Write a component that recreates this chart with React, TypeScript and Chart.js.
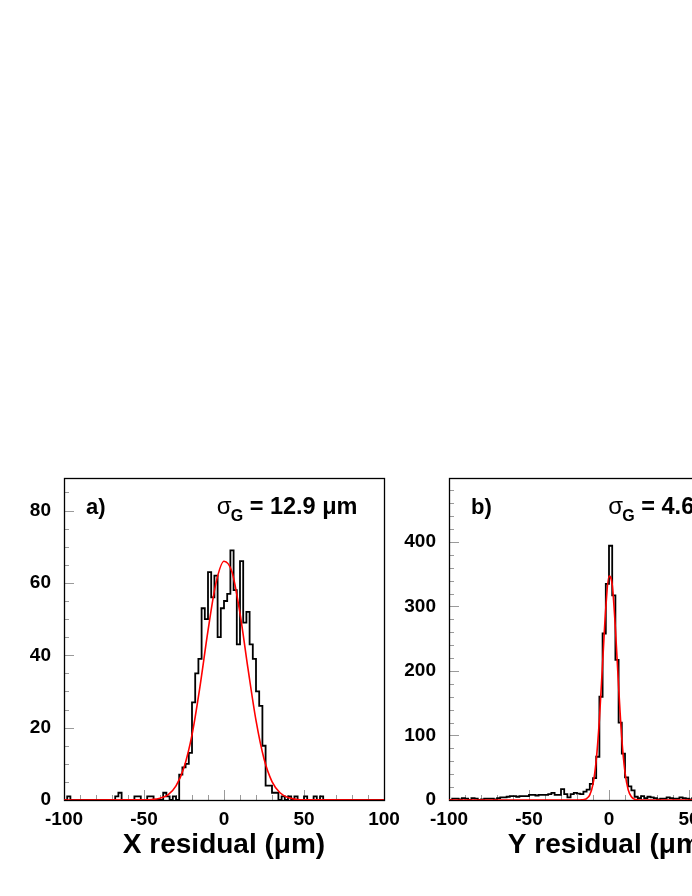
import React, { useEffect, useRef } from 'react';
import { Chart, registerables } from 'chart.js';

Chart.register(...registerables);

const FF = '"Liberation Sans", Arial, Helvetica, sans-serif';

// Histogram bin low edges (µm), width 2
const binLowEdges = [
  -100, -98, -96, -94, -92, -90, -88, -86, -84, -82,
  -80, -78, -76, -74, -72, -70, -68, -66, -64, -62,
  -60, -58, -56, -54, -52, -50, -48, -46, -44, -42,
  -40, -38, -36, -34, -32, -30, -28, -26, -24, -22,
  -20, -18, -16, -14, -12, -10, -8, -6, -4, -2,
  0, 2, 4, 6, 8, 10, 12, 14, 16, 18,
  20, 22, 24, 26, 28, 30, 32, 34, 36, 38,
  40, 42, 44, 46, 48, 50, 52, 54, 56, 58,
  60, 62, 64, 66, 68, 70, 72, 74, 76, 78,
  80, 82, 84, 86, 88, 90, 92, 94, 96, 98,
];
const binUpperEnd = 100;

// a) X residual counts
const countsX = [
  0, 1, 0, 0, 0, 0, 0, 0, 0, 0,
  0, 0, 0, 0, 0, 0, 1, 2, 0, 0,
  0, 0, 1, 1, 0, 0, 1, 1, 0, 0,
  0, 2, 1, 0, 1, 0, 7, 9, 10, 13,
  27, 35, 39, 53, 50, 63, 56, 62, 45, 53,
  55, 57, 69, 58, 43, 66, 49, 52, 43, 39,
  30, 26, 15, 4, 4, 2, 2, 0, 1, 0,
  1, 0, 1, 0, 0, 1, 0, 0, 1, 0,
  1, 0, 0, 0, 0, 0, 0, 0, 0, 0,
  0, 0, 0, 0, 0, 0, 0, 0, 0, 0,
];

// b) Y residual counts
const countsY = [
  0, 2, 2, 1, 3, 2, 0, 3, 2, 0,
  1, 2, 2, 2, 1, 3, 4, 4, 5, 6,
  6, 5, 6, 6, 6, 8, 8, 7, 8, 8,
  8, 9, 11, 8, 8, 17, 9, 4, 9, 11,
  10, 9, 13, 16, 25, 34, 67, 160, 258, 335,
  394, 317, 217, 120, 72, 35, 21, 15, 5, 3,
  6, 3, 5, 4, 3, 1, 2, 2, 4, 3,
  2, 2, 4, 3, 2, 1, 3, 2, 1, 2,
  1, 2, 1, 0, 1, 1, 0, 1, 1, 0,
  1, 0, 1, 0, 0, 1, 0, 0, 1, 0,
];

// Fitted curves (red)
const fitPosA = [-100, -50, -45, -40, -35, -30, -25, -20, -15, -10, -5, 0, 5, 10, 15, 20, 25, 30, 35, 40, 45, 50, 100];
const fitValA = [0, 0.05, 0.15, 0.5, 1.4, 3.9, 9, 18, 31.4, 46.8, 60, 66, 63, 51.6, 36.3, 22, 11.4, 5.1, 2, 0.66, 0.2, 0.05, 0];
const fitPosB = [-100, -20, -18, -16, -14, -12, -10, -8, -6, -4, -2, 0, 2, 4, 6, 8, 10, 12, 14, 16, 18, 20, 100];
const fitValB = [0, 0, 0.1, 0.5, 2.3, 8, 24.5, 61, 125, 212, 298, 347, 334, 266, 176, 95, 43, 16, 5, 1.3, 0.3, 0, 0];

const xTicks = [-100, -50, 0, 50, 100];
const yTicksA = [0, 20, 40, 60, 80];
const yTicksB = [0, 100, 200, 300, 400];

type PanelCfg = {
  counts: number[];
  fitPos: number[];
  fitVal: number[];
  yMax: number;
  yTicks: number[];
  yMinorStep: number;
  label: string;
  sigma: string;
  sigmaDx: number;
  xTitle: string;
};

function histPoints(counts: number[]) {
  const pts = binLowEdges.map((x, i) => ({ x, y: counts[i] }));
  pts.push({ x: binUpperEnd, y: counts[counts.length - 1] });
  return pts;
}

function makeDecor(cfg: PanelCfg) {
  return {
    id: 'decor',
    beforeDatasetsDraw(chart: any) {
      const { ctx, chartArea: ca, scales } = chart;
      const xs = scales.x;
      const ys = scales.y;
      ctx.save();
      ctx.strokeStyle = '#9a9a9a';
      ctx.lineWidth = 1;
      ctx.beginPath();
      for (let v = -100; v <= 100; v += 10) {
        const px = Math.round(xs.getPixelForValue(v)) + 0.5;
        const len = v % 50 === 0 ? 10 : 5;
        ctx.moveTo(px, ca.bottom);
        ctx.lineTo(px, ca.bottom - len);
      }
      const major = cfg.yTicks[1] - cfg.yTicks[0];
      for (let v = 0; v <= cfg.yMax; v += cfg.yMinorStep) {
        const py = Math.round(ys.getPixelForValue(v)) + 0.5;
        const len = v % major === 0 ? 10 : 5;
        ctx.moveTo(ca.left, py);
        ctx.lineTo(ca.left + len, py);
      }
      ctx.stroke();
      ctx.strokeStyle = '#000';
      ctx.lineWidth = 1.3;
      ctx.strokeRect(ca.left + 0.5, ca.top + 0.5, ca.right - ca.left, ca.bottom - ca.top);
      ctx.restore();
    },
    afterDatasetsDraw(chart: any) {
      const { ctx, chartArea: ca } = chart;
      ctx.save();
      ctx.fillStyle = '#000';
      ctx.textAlign = 'left';
      ctx.textBaseline = 'alphabetic';
      ctx.font = `bold 22px ${FF}`;
      ctx.fillText(cfg.label, ca.left + 22, ca.top + 36);
      const sx = ca.left + cfg.sigmaDx;
      ctx.font = `24px ${FF}`;
      ctx.fillText('σ', sx, ca.top + 36);
      ctx.font = `bold 16px ${FF}`;
      ctx.fillText('G', sx + 14, ca.top + 43);
      ctx.font = `bold 23.5px ${FF}`;
      ctx.fillText(`= ${cfg.sigma} μm`, sx + 33, ca.top + 36);
      ctx.restore();
    },
  };
}

function Panel({ left, top, cfg }: { left: number; top: number; cfg: PanelCfg }) {
  const ref = useRef<HTMLCanvasElement>(null);
  useEffect(() => {
    const chart = new Chart(ref.current as HTMLCanvasElement, {
      type: 'line',
      data: {
        datasets: [
          {
            label: 'fit',
            data: cfg.fitPos.map((x, i) => ({ x, y: cfg.fitVal[i] })),
            borderColor: '#ff0000',
            borderWidth: 1.6,
            pointRadius: 0,
            cubicInterpolationMode: 'monotone',
            fill: false,
          },
          {
            label: 'hist',
            data: histPoints(cfg.counts),
            borderColor: '#000000',
            borderWidth: 1.8,
            pointRadius: 0,
            stepped: 'before',
            fill: false,
          },
        ],
      },
      options: {
        animation: false,
        responsive: false,
        events: [],
        layout: { padding: { top: 38, right: 36, left: 0, bottom: 0 } },
        plugins: { legend: { display: false }, tooltip: { enabled: false } },
        scales: {
          x: {
            type: 'linear',
            min: -100,
            max: 100,
            afterBuildTicks: (s: any) => {
              s.ticks = xTicks.map((v) => ({ value: v }));
            },
            afterFit: (s: any) => {
              s.height = 96;
            },
            grid: { display: false, drawTicks: false },
            border: { display: false },
            ticks: {
              color: '#000',
              font: { family: FF, size: 19, weight: 'bold' },
              padding: 8,
              maxRotation: 0,
              autoSkip: false,
            },
            title: {
              display: true,
              text: cfg.xTitle,
              color: '#000',
              font: { family: FF, size: 28, weight: 'bold' },
              padding: { top: 0, bottom: 34 },
            },
          },
          y: {
            type: 'linear',
            min: 0,
            max: cfg.yMax,
            afterBuildTicks: (s: any) => {
              s.ticks = cfg.yTicks.map((v) => ({ value: v }));
            },
            afterFit: (s: any) => {
              s.width = 64;
            },
            grid: { display: false, drawTicks: false },
            border: { display: false },
            ticks: {
              color: '#000',
              font: { family: FF, size: 19, weight: 'bold' },
              padding: 13,
              autoSkip: false,
            },
          },
        },
      } as any,
      plugins: [makeDecor(cfg)],
    } as any);
    return () => chart.destroy();
  }, []);
  return (
    <canvas
      ref={ref}
      width={420}
      height={456}
      style={{ position: 'absolute', left, top, width: 420, height: 456 }}
    />
  );
}

const panelA: PanelCfg = {
  counts: countsX,
  fitPos: fitPosA,
  fitVal: fitValA,
  yMax: 89,
  yTicks: yTicksA,
  yMinorStep: 5,
  label: 'a)',
  sigma: '12.9',
  sigmaDx: 152.7,
  xTitle: 'X residual (μm)',
};

const panelB: PanelCfg = {
  counts: countsY,
  fitPos: fitPosB,
  fitVal: fitValB,
  yMax: 499,
  yTicks: yTicksB,
  yMinorStep: 20,
  label: 'b)',
  sigma: '4.6',
  sigmaDx: 159.3,
  xTitle: 'Y residual (μm)',
};

export default function App() {
  return (
    <div
      style={{
        position: 'absolute',
        left: 0,
        top: 0,
        width: 692,
        height: 896,
        overflow: 'hidden',
        background: '#fff',
      }}
    >
      <Panel left={0} top={440} cfg={panelA} />
      <Panel left={385} top={440} cfg={panelB} />
    </div>
  );
}
